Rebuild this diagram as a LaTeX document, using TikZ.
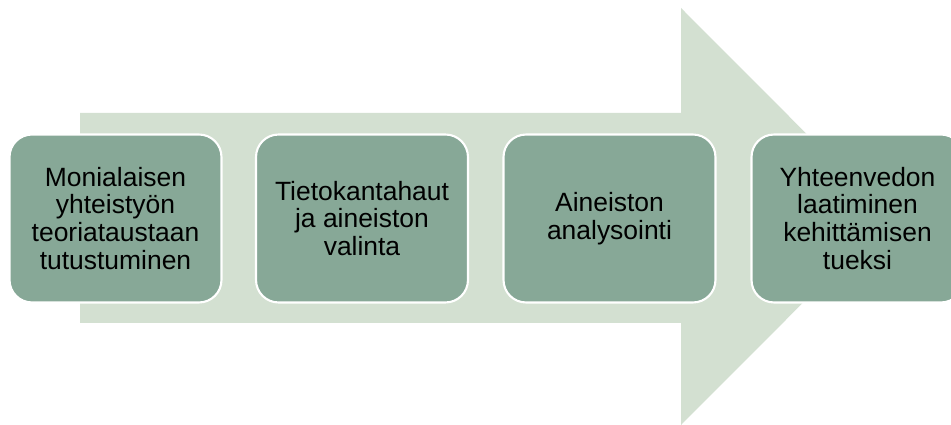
\documentclass[tikz,border=0pt]{standalone}
\usepackage{fontspec}
\setmainfont{Liberation Sans}
\begin{document}
\begin{tikzpicture}[x=0.02cm,y=-0.02cm]
    \definecolor{phase_arrow}{RGB}{211,224,209}
    \definecolor{phase_box}{RGB}{135,168,151}
    \tikzset{phasebox/.style={shape=rectangle,rounded corners=0.45cm,draw=white,line width=1.2pt,fill=phase_box,minimum width=4.24cm,minimum height=3.36cm,align=center,font=\fontsize{15.05}{15.9}\selectfont}}
    \clip (0,0) rectangle (951,425);
    \fill[white] (0,0) rectangle (951,425);
    % big background arrow
    \fill[phase_arrow] (80,113) to (681,113) to (681,8) to (889,216.5) to (681,425) to (681,323) to (80,323) -- cycle;
    \node[phasebox] (p1) at (115.5,218.5) {Monialaisen\\yhteistyön\\teoriataustaan\\tutustuminen};
    \node[phasebox] (p2) at (362,218.5) {Tietokantahaut\\ja aineiston\\valinta};
    \node[phasebox] (p3) at (609.5,218.5) {Aineiston\\analysointi};
    \node[phasebox] (p4) at (857.5,218.5) {Yhteenvedon\\laatiminen\\kehittämisen\\tueksi};
    % \node at (951,218.5) {...};
\end{tikzpicture}
\end{document}
